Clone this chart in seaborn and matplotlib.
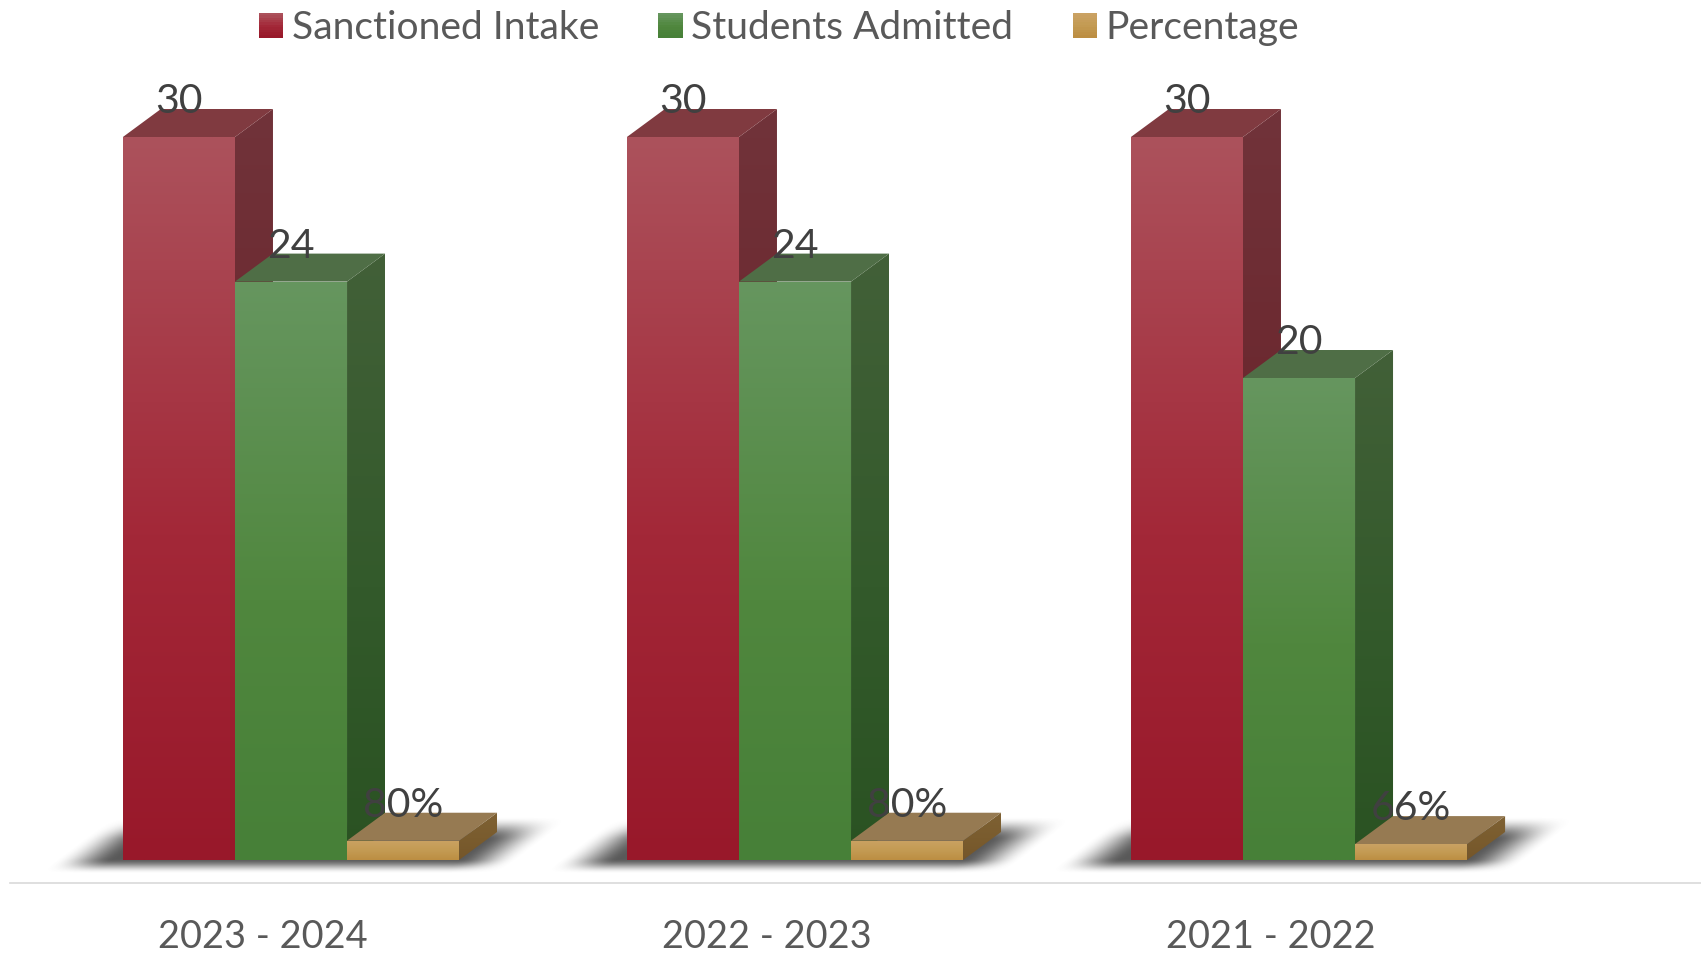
import numpy as np
import pandas as pd
import matplotlib
matplotlib.use("Agg")
import matplotlib.pyplot as plt
import seaborn as sns
from matplotlib.colors import to_rgb
from matplotlib.legend_handler import HandlerBase
from matplotlib.patches import Polygon, Patch, Rectangle
from matplotlib.transforms import ScaledTranslation

years = ["2023 - 2024", "2022 - 2023", "2021 - 2022"]
sanctioned = [30, 30, 30]
admitted = [24, 24, 20]
percentage = [0.80, 0.80, 0.66]
series = ["Sanctioned Intake", "Students Admitted", "Percentage"]

front_stops = {
    series[0]: ["#AC525C", "#A32838", "#98182A"],
    series[1]: ["#66965F", "#50873E", "#478038"],
    series[2]: ["#CAA263", "#C39A52", "#BC8E42"],
}
side_stops = {
    series[0]: ["#71333A", "#6A242B", "#5E1A20"],
    series[1]: ["#426038", "#335A2B", "#2A5222"],
    series[2]: ["#7E6134", "#7A5C2E", "#75562A"],
}
top_colors = {series[0]: "#803A40", series[1]: "#4F6E46", series[2]: "#967A52"}

W, H = 1701, 955
DPI = 100
DEPTH_X, DEPTH_Y = 38, 28
FONT = "Lato"

sns.set_theme(style="white")
plt.rcParams["font.family"] = [FONT, "DejaVu Sans"]

fig = plt.figure(figsize=(W / DPI, H / DPI), dpi=DPI, facecolor="white")
ax_left, ax_right, ax_top, ax_bottom = 10, W, 60, 882.5
ax = fig.add_axes([ax_left / W, 1 - ax_bottom / H,
                   (ax_right - ax_left) / W, (ax_bottom - ax_top) / H])

df = pd.DataFrame({
    "year": years * 3,
    "value": sanctioned + admitted + percentage,
    "series": np.repeat(series, 3),
})
sns.barplot(data=df, x="year", y="value", hue="series", hue_order=series,
            order=years, palette=[front_stops[s][2] for s in series],
            width=0.667, gap=0, dodge=True, legend=False, ax=ax,
            linewidth=0, saturation=1, errorbar=None)

px_x, px_y = 504, 723 / 30
group0 = 291
ax.set_xlim((ax_left - group0) / px_x, (ax_right - group0) / px_x)
ax.set_ylim(-(ax_bottom - 860) / px_y, (860 - ax_top) / px_y)
ax.set_autoscale_on(False)
dx, dy = DEPTH_X / px_x, DEPTH_Y / px_y


def ramp(vertical_stops, n=256):
    stops = np.array([to_rgb(c) for c in vertical_stops])
    pos = np.array([0, 0.55, 1.0])
    t = np.linspace(0, 1, n)
    img = np.stack([np.interp(t, pos, stops[:, i]) for i in range(3)], axis=1)
    return img[:, None, :]


def gradient_face(verts, stops, z):
    xs, ys = zip(*verts)
    im = ax.imshow(ramp(stops), extent=(min(xs), max(xs), min(ys), max(ys)),
                   origin="upper", aspect="auto", zorder=z,
                   interpolation="bilinear")
    im.set_clip_path(Polygon(verts, closed=True, transform=ax.transData))


def shadow(x0_data, z=1):
    xmin, xmax = x0_data - 110 / px_x, x0_data + 460 / px_x
    ymin, ymax = -18 / px_y, 50 / px_y
    nx, ny = 570, 68
    u = np.linspace(-110, 460, nx)
    v = np.linspace(50, -18, ny)
    uu, vv = np.meshgrid(u, v)
    sk = uu - 1.3 * vv

    def step(a, lo, hi):
        t = np.clip((a - lo) / (hi - lo), 0, 1)
        return t * t * (3 - 2 * t)

    alpha = (step(sk, -68, -8) * (1 - step(sk, 335, 395))
             * step(vv, -14, 1) * (1 - step(vv, 20, 44)))
    img = np.zeros((ny, nx, 4))
    img[..., :3] = 0.26
    img[..., 3] = alpha * 0.88
    ax.imshow(img, extent=(xmin, xmax, ymin, ymax), origin="upper",
              aspect="auto", zorder=z, interpolation="bilinear")


for rect in ax.containers[0]:
    shadow(rect.get_x())

for h, (container, name) in enumerate(zip(ax.containers, series)):
    for rect in container:
        x0, w, v = rect.get_x(), rect.get_width(), rect.get_height()
        z = 3 + h
        x1 = x0 + w
        gradient_face([(x1, 0), (x1 + dx, dy), (x1 + dx, v + dy), (x1, v)],
                      side_stops[name], z)
        ax.add_patch(Polygon([(x0, v), (x0 + dx, v + dy), (x1 + dx, v + dy), (x1, v)],
                             closed=True, facecolor=top_colors[name],
                             edgecolor="none", zorder=z + 0.1))
        rect.set_zorder(z + 0.2)
        gradient_face([(x0, 0), (x1, 0), (x1, v), (x0, v)],
                      front_stops[name], z + 0.3)
        label = f"{v:.0%}" if name == "Percentage" else f"{v:.0f}"
        ax.annotate(label, (x0 + w / 2, v), xytext=(0, 24 * 72 / DPI),
                    textcoords="offset points", ha="center", va="baseline",
                    fontsize=29.5, color="#404040", zorder=10,
                    annotation_clip=False)

sns.despine(ax=ax, left=True, top=True, right=True, bottom=False)
ax.spines["bottom"].set_color("#D9D9D9")
ax.spines["bottom"].set_linewidth(1.2)
ax.set_xlabel("")
ax.set_ylabel("")
ax.set_yticks([])
ax.patch.set_alpha(0)
ax.tick_params(axis="x", length=0, pad=26, labelsize=27.3, labelcolor="#595959")
offset = ScaledTranslation(-28 / DPI, 0, fig.dpi_scale_trans)
for lab in ax.get_xticklabels():
    lab.set_transform(lab.get_transform() + offset)


class GradientSwatch(HandlerBase):
    def create_artists(self, legend, orig, xd, yd, width, height, fontsize, trans):
        stops = orig.stops
        img = ramp(stops, 10)[:, 0, :]
        n = len(img)
        out = []
        for i, col in enumerate(img):
            y = yd * -1 + height * (1 - (i + 1) / n)
            out.append(Rectangle((-xd, y), width, height / n + 0.2,
                                 facecolor=col, edgecolor="none", transform=trans))
        return out


handles = []
for s in series:
    p = Patch(facecolor=front_stops[s][1], label=s)
    p.stops = front_stops[s]
    handles.append(p)

leg = fig.legend(handles=handles, labels=series, ncol=3, frameon=False,
                 loc="upper left", bbox_to_anchor=(259 / W, 1 - 10 / H),
                 borderpad=0, borderaxespad=0, fontsize=28.1,
                 handlelength=0.62, handleheight=0.6, handletextpad=0.22,
                 columnspacing=1.52, labelcolor="#595959",
                 handler_map={Patch: GradientSwatch()})

fig.savefig("out.png", dpi=DPI, facecolor="white")
